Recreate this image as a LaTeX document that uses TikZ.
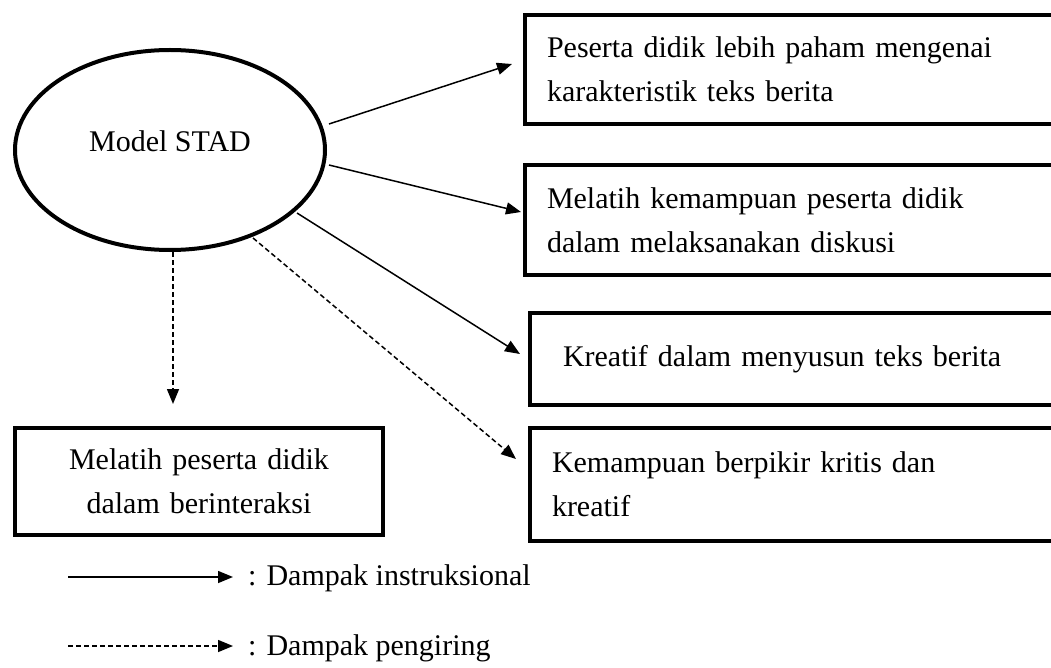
\documentclass[tikz,border=0pt]{standalone}
\usepackage{fontspec}
\setmainfont{Liberation Serif}
\usetikzlibrary{shapes.geometric,arrows.meta}
\begin{document}
\begin{tikzpicture}[x=1pt,y=-1pt,
  txt/.style={font=\fontsize{30}{44}\selectfont},
  conn/.style={line width=1.5pt,-{Triangle[length=15pt,width=12pt]}},
  dconn/.style={conn,dash pattern=on 5pt off 3pt},
  box/.style={txt,draw,line width=4pt,rectangle,anchor=north west,inner ysep=0pt,outer sep=0pt,align=left},
  ell/.style={draw,ellipse,line width=4pt,minimum width=310pt,minimum height=200pt,inner sep=0pt,outer sep=0pt},
]
\useasboundingbox (0,0) rectangle (1051,668);

% central ellipse
\node[ell] (stad) at (170,150) {};
\node[txt,anchor=base] (stadtxt) at (170,152) {Model STAD};

% right boxes
\node[box,minimum width=545pt,minimum height=109pt,inner xsep=22pt,text width=501pt] (b1) at (525,15)
  {Peserta didik lebih paham mengenai\\karakteristik teks berita};
\node[box,minimum width=545pt,minimum height=110pt,inner xsep=22pt,text width=501pt] (b2) at (525,165)
  {Melatih kemampuan peserta didik\\dalam melaksanakan diskusi};
\node[box,minimum width=540pt,minimum height=92pt,inner xsep=33pt,text width=474pt] (b3) at (530,313)
  {Kreatif dalam menyusun teks berita};
\node[box,minimum width=540pt,minimum height=113pt,inner xsep=22pt,text width=496pt] (b4) at (530,428)
  {Kemampuan berpikir kritis dan\\kreatif};

% left box
\node[box,align=center,minimum width=368pt,minimum height=107pt,inner xsep=19pt,text width=330pt] (b5) at (15,428)
  {Melatih peserta didik\\dalam berinteraksi};

% connector ends
\coordinate (s1) at (329,124); \coordinate (t1) at (512,64);
\coordinate (s2) at (329,165); \coordinate (t2) at (521,212);
\coordinate (s3) at (297,213); \coordinate (t3) at (520,354);
\coordinate (s4) at (253,238); \coordinate (t4) at (516,459);
\coordinate (s5) at (173,252); \coordinate (t5) at (173,404);

\draw[conn] (s1) -- (t1);
\draw[conn] (s2) -- (t2);
\draw[conn] (s3) -- (t3);
\draw[dconn] (s4) -- (t4);
\draw[dconn] (s5) -- (t5);

% legend
\coordinate (la) at (68,577); \coordinate (lb) at (233,577);
\coordinate (lc) at (68,646); \coordinate (ld) at (233,646);
\draw[conn] (la) -- (lb);
\draw[dconn] (lc) -- (ld);
\node[txt,anchor=base west,inner sep=0pt] (leg1) at (248,585) {: Dampak instruksional};
\node[txt,anchor=base west,inner sep=0pt] (leg2) at (248,655) {: Dampak pengiring};
\end{tikzpicture}
\end{document}
